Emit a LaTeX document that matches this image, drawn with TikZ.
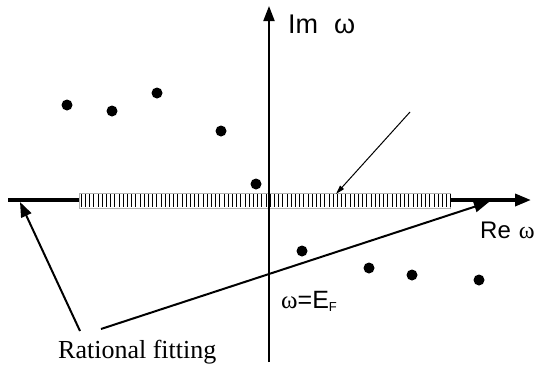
\documentclass[tikz,border=0pt]{standalone}
\usepackage{fontspec}
\setmainfont{Liberation Serif}
\setsansfont{Liberation Sans}
\usetikzlibrary{arrows.meta}
\begin{document}
\begin{tikzpicture}[x=1pt,y=-1pt,
  dot/.style={circle,fill=black,inner sep=0pt,minimum size=11pt},
  axislbl/.style={inner sep=0pt,anchor=base west,font=\sffamily\fontsize{26}{30}\selectfont},
  serlbl/.style={inner sep=0pt,anchor=base west,font=\rmfamily\fontsize{26}{30}\selectfont},
  bigarrow/.style={line width=2pt,-{Triangle[length=15pt,width=11pt]}},
  thinarrow/.style={line width=1pt,-{Triangle[length=9pt,width=5pt]}}]
\useasboundingbox (0,0) rectangle (536,370);
% real axis
\coordinate (xl) at (8,200);
\coordinate (xr) at (531,200);
\draw[line width=3.5pt,-{Triangle[length=16pt,width=12pt]}] (xl) -- (xr);
% hatched bar
\node[draw=gray!60,fill=white,line width=0.8pt,minimum width=371pt,minimum height=15pt,inner sep=0pt,anchor=north west] (bar) at (79,193) {};
\foreach \i in {0,...,88} {
  \draw[line width=0.45pt] ({81+4.2*\i},194) -- ({81+4.2*\i},207);
}
% imaginary axis
\coordinate (yb) at (269,362);
\coordinate (yt) at (269,6);
\draw[line width=2pt,-{Triangle[length=15pt,width=11pt]}] (yb) -- (yt);
% labels
\node[axislbl,font=\sffamily\fontsize{27}{30}\selectfont] (im) at (288,33) {Im\hspace{16pt}ω};
\node[axislbl,font=\sffamily\fontsize{24}{28}\selectfont] (re) at (480,238) {Re\hspace{8pt}{\rmfamily ω}};
\node[axislbl,font=\sffamily\fontsize{25}{28}\selectfont] (ef) at (281,308) {{\rmfamily ω}=E\raisebox{-3pt}{\fontsize{13}{15}\selectfont F}};
\node[serlbl] (rf) at (58,358) {Rational fitting};
% dots
\foreach \n/\x/\y in {d1/67/105,d2/112/111,d3/157/93,d4/221/131,d5/256/184,d6/302/251,d7/369/268,d8/412/275,d9/479/280}
  \node[dot] (\n) at (\x,\y) {};
% arrows
\coordinate (t1) at (410,112);
\coordinate (h1) at (336,194);
\draw[thinarrow] (t1) -- (h1);
\coordinate (t2) at (80,331);
\coordinate (h2) at (20,202);
\draw[bigarrow] (t2) -- (h2);
\coordinate (t3) at (101,329);
\coordinate (h3) at (489,202);
\draw[bigarrow] (t3) -- (h3);
\end{tikzpicture}
\end{document}
